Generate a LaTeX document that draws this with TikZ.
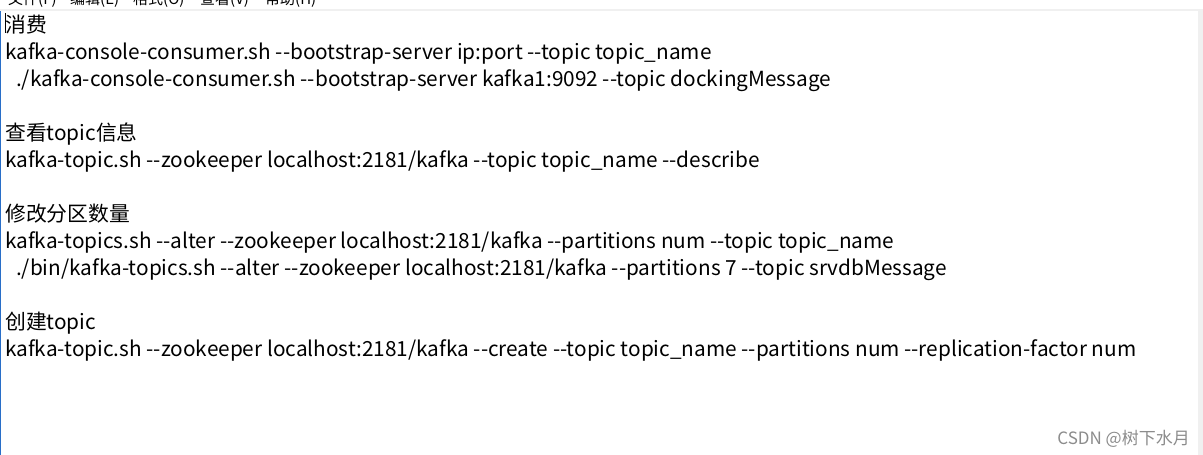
\documentclass[tikz,border=0pt]{standalone}
\usepackage{fontspec}
\setmainfont{Noto Sans CJK SC}[Ligatures=TeXOff]
\usetikzlibrary{positioning}

\definecolor{panelgray}{RGB}{240,240,240}
\definecolor{edgeblue}{RGB}{40,110,200}

\tikzset{
  txt/.style={anchor=base west, inner sep=0pt, font=\fontsize{20.8}{24}\selectfont},
  menu/.style={anchor=base west, inner sep=0pt, font=\fontsize{15}{18}\selectfont},
}

\begin{document}
\begin{tikzpicture}[x=1pt,y=-1pt]
  \useasboundingbox (0,0) rectangle (1203,455);
  \fill[white] (0,0) rectangle (1203,455);

  % menu bar, cut off at the top
  \begin{scope}
    \clip (0,0) rectangle (1198,9);
    \node[menu] (mfile) at (8,5) {文件(F)};
    \node[menu] (medit) at (70,5) {编辑(E)};
    \node[menu] (mformat) at (133,5) {格式(O)};
    \node[menu] (mview) at (200,5) {查看(V)};
    \node[menu] (mhelp) at (265,5) {帮助(H)};
  \end{scope}
  \fill[panelgray] (0,9) rectangle (1198,11);
  \fill[panelgray] (1198,9) rectangle (1203,455);
  \draw[edgeblue, line width=1.2pt] (0.6,11) -- (0.6,455);

  % caret
  \draw[black, line width=0.8pt] (5.5,13) -- (5.5,33);

  % consume
  \node[txt] (consume) at (5,32) {消费};
  \node[txt] (consumeA) at (5,59) {kafka-console-consumer.sh --bootstrap-server ip:port --topic topic\_name};
  \node[txt] (consumeB) at (16,86) {./kafka-console-consumer.sh --bootstrap-server kafka1:9092 --topic dockingMessage};

  % describe
  \node[txt] (describe) at (5,140) {查看topic信息};
  \node[txt] (describeA) at (5,167) {kafka-topic.sh --zookeeper localhost:2181/kafka --topic topic\_name --describe};

  % alter partitions
  \node[txt] (alter) at (5,221) {修改分区数量};
  \node[txt] (alterA) at (5,248) {kafka-topics.sh --alter --zookeeper localhost:2181/kafka --partitions num --topic topic\_name};
  \node[txt] (alterB) at (16,275) {./bin/kafka-topics.sh --alter --zookeeper localhost:2181/kafka --partitions 7 --topic srvdbMessage};

  % create
  \node[txt] (create) at (5,329) {创建topic};
  \node[txt] (createA) at (5,356) {kafka-topic.sh --zookeeper localhost:2181/kafka --create --topic topic\_name --partitions num --replication-factor num};

  % watermark
  \node[anchor=base east, inner sep=0pt, text=black!45, font=\fontsize{17}{19}\selectfont] (mark) at (1190,444) {CSDN @树下水月};
\end{tikzpicture}
\end{document}
